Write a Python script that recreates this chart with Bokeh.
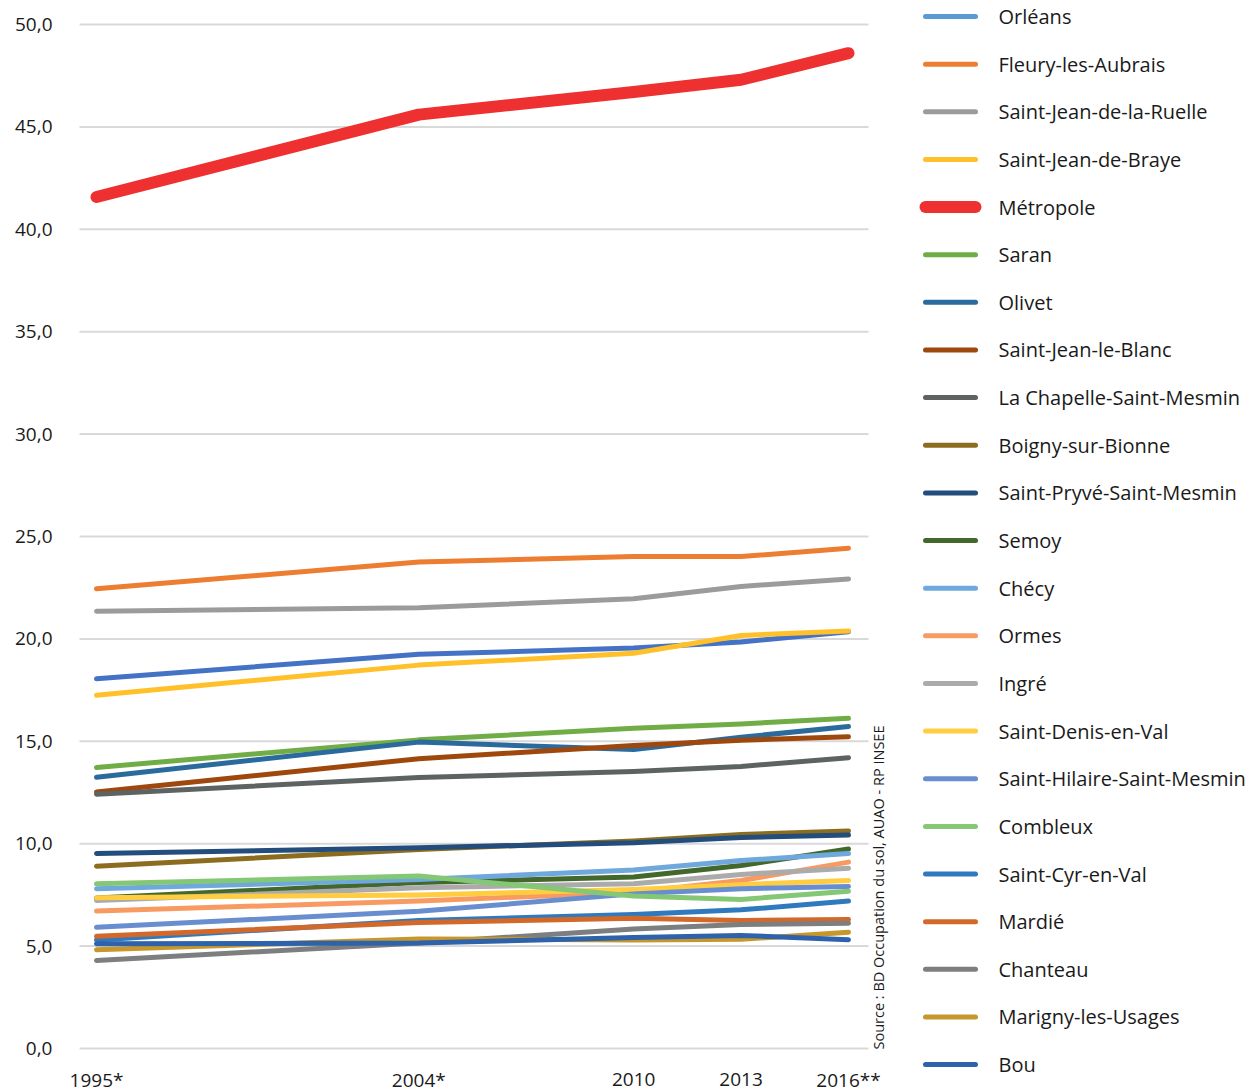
import math
from bokeh.plotting import figure
from bokeh.layouts import row
from bokeh.models import Range1d, FixedTicker, CustomJSTickFormatter, ColumnDataSource
from bokeh.core.properties import value
from bokeh.embed import file_html
from bokeh.resources import INLINE

# ---------------- data ----------------
years = [1995, 2004, 2010, 2013, 2016]
year_labels = ["1995*", "2004*", "2010", "2013", "2016**"]
y_ticks = [0, 5, 10, 15, 20, 25, 30, 35, 40, 45, 50]
source_text = "Source : BD Occupation du sol, AUAO - RP INSEE"

communes = [
    "Orléans", "Fleury-les-Aubrais", "Saint-Jean-de-la-Ruelle", "Saint-Jean-de-Braye",
    "Métropole", "Saran", "Olivet", "Saint-Jean-le-Blanc", "La Chapelle-Saint-Mesmin",
    "Boigny-sur-Bionne", "Saint-Pryvé-Saint-Mesmin", "Semoy", "Chécy", "Ormes", "Ingré",
    "Saint-Denis-en-Val", "Saint-Hilaire-Saint-Mesmin", "Combleux", "Saint-Cyr-en-Val",
    "Mardié", "Chanteau", "Marigny-les-Usages", "Bou",
]

orleans = [18.05, 19.25, 19.55, 19.85, 20.35]
fleury = [22.45, 23.75, 24.02, 24.02, 24.43]
sj_ruelle = [21.35, 21.52, 21.96, 22.56, 22.93]
sj_braye = [17.25, 18.72, 19.30, 20.17, 20.38]
metropole = [41.58, 45.60, 46.70, 47.30, 48.60]
saran = [13.72, 15.07, 15.64, 15.85, 16.12]
olivet = [13.25, 14.96, 14.60, 15.20, 15.72]
sj_blanc = [12.52, 14.15, 14.80, 15.05, 15.22]
la_chapelle = [12.42, 13.23, 13.52, 13.77, 14.20]
boigny = [8.90, 9.72, 10.13, 10.45, 10.62]
saint_pryve = [9.52, 9.80, 10.05, 10.30, 10.42]
semoy = [7.35, 8.10, 8.37, 8.94, 9.74]
checy = [7.80, 8.25, 8.72, 9.18, 9.52]
ormes = [6.71, 7.20, 7.63, 8.20, 9.10]
ingre = [7.23, 7.85, 8.04, 8.50, 8.80]
st_denis = [7.36, 7.50, 7.76, 8.00, 8.20]
st_hilaire = [5.92, 6.70, 7.55, 7.80, 7.91]
combleux = [8.04, 8.42, 7.45, 7.28, 7.68]
st_cyr = [5.30, 6.25, 6.54, 6.77, 7.20]
mardie = [5.48, 6.15, 6.36, 6.25, 6.30]
chanteau = [4.30, 5.15, 5.84, 6.05, 6.12]
marigny = [4.82, 5.35, 5.30, 5.33, 5.68]
bou = [5.11, 5.15, 5.42, 5.52, 5.31]

series = [orleans, fleury, sj_ruelle, sj_braye, metropole, saran, olivet, sj_blanc,
          la_chapelle, boigny, saint_pryve, semoy, checy, ormes, ingre, st_denis,
          st_hilaire, combleux, st_cyr, mardie, chanteau, marigny, bou]

line_colors = [
    "#4472C4", "#ED7D31", "#9A9C9C", "#FFC02A", "#EE3030", "#70AD47", "#2B6A9C",
    "#9E480E", "#5D6263", "#8C6D1F", "#234D7C", "#43682B", "#6FA8DC", "#F79B63",
    "#ABABAB", "#FFCD3F", "#698ED0", "#84C775", "#2F7ABF", "#D2692A", "#7C7E7F",
    "#C6972C", "#2E62AB",
]
legend_colors = ["#5B9BD5"] + line_colors[1:]
line_widths = [12 if c == "Métropole" else 5 for c in communes]

FONT = "Open Sans"
H = 1091

# ---------------- main chart ----------------
# frame spans the full height; value 0 sits at 1048 px, 50 at 24 px
PX_PER_UNIT = (1048 - 24) / 50.0
Y_TOP = 1048 / PX_PER_UNIT
Y_BOT = -(H - 1048) / PX_PER_UNIT
PX_PER_YEAR = (848 - 96) / 21.0
FRAME_LEFT = 60
X0 = 1995 - (96 - FRAME_LEFT) / PX_PER_YEAR
X_GRID_START = 1995 - (96 - 79) / PX_PER_YEAR
X_GRID_END = 2016 + (868 - 848) / PX_PER_YEAR
X1 = 2016 + (895 - 848) / PX_PER_YEAR
LABEL_Y = -(1079 - 1048) / PX_PER_UNIT
SOURCE_X = 2016 + (878 - 848) / PX_PER_YEAR

p = figure(width=895, height=H,
           x_range=Range1d(X0, X1), y_range=Range1d(Y_BOT, Y_TOP),
           output_backend="svg", toolbar_location=None, x_axis_location=None,
           min_border_left=FRAME_LEFT, min_border_right=0, min_border_top=0, min_border_bottom=0)
p.outline_line_color = None
p.grid.visible = False

p.yaxis.ticker = FixedTicker(ticks=y_ticks)
p.yaxis.formatter = CustomJSTickFormatter(code="return tick.toFixed(1).replace('.', ',');")
ax = p.yaxis[0]
ax.axis_line_color = None
ax.major_tick_line_color = None
ax.minor_tick_line_color = None
ax.major_tick_out = 0
ax.major_tick_in = 0
ax.minor_tick_out = 0
ax.minor_tick_in = 0
ax.major_label_text_font = FONT
ax.major_label_text_font_size = "19px"
ax.major_label_text_color = "#1A1A1A"
ax.major_label_standoff = 8

# horizontal gridlines (only across the plot area)
p.segment(x0=[X_GRID_START] * len(y_ticks), x1=[X_GRID_END] * len(y_ticks),
          y0=y_ticks, y1=y_ticks, line_color="#D9D9D9", line_width=2)

for vals, col, w in zip(series, line_colors, line_widths):
    p.line(years, vals, line_color=col, line_width=w, line_cap="round", line_join="round")

# category labels of the x axis
p.text(x=years, y=[LABEL_Y] * len(years), text=year_labels,
       text_align="center", text_baseline="middle",
       text_font=value(FONT), text_font_size="19px", text_color="#1A1A1A")

p.text(x=[SOURCE_X], y=[-0.05], text=[source_text], angle=math.pi / 2,
       text_align="left", text_baseline="middle",
       text_font=value(FONT), text_font_size="14.5px", text_color="#1A1A1A")

# ---------------- legend panel ----------------
lg = figure(width=364, height=H, x_range=Range1d(895, 1259), y_range=Range1d(H, 0),
            output_backend="svg", toolbar_location=None, min_border=0,
            x_axis_location=None, y_axis_location=None)
lg.grid.visible = False
lg.outline_line_color = None

ly = [16 + i * 47.64 for i in range(len(communes))]
src = ColumnDataSource(dict(
    x0=[925] * len(communes), x1=[975] * len(communes), y=ly,
    color=legend_colors, width=line_widths, tx=[998] * len(communes), label=communes,
))
lg.segment(x0="x0", y0="y", x1="x1", y1="y", line_color="color", line_width="width",
           line_cap="round", source=src)
lg.text(x="tx", y="y", text="label", text_font=value(FONT), text_font_size="20px",
        text_baseline="middle", text_align="left", text_color="#1A1A1A", source=src)

layout = row(p, lg)
open("out.html", "w").write(file_html(layout, INLINE))
